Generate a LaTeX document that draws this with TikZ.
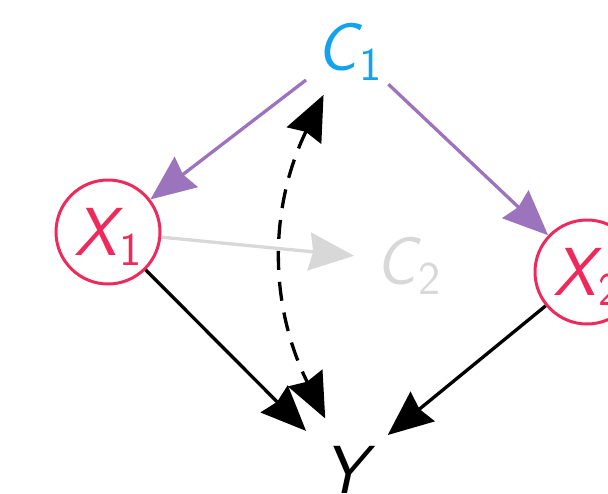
\documentclass[tikz,border=0pt]{standalone}
\usetikzlibrary{arrows.meta}
\definecolor{cblue}{HTML}{12A2EE}
\definecolor{cred}{HTML}{EE2A5C}
\definecolor{cpurple}{HTML}{9C73BD}
\definecolor{cgray}{HTML}{D8D8D8}
% italic sans letter with an upright sans subscript (subscript kept out of the box height)
\newcommand{\varlbl}[2]{{\sffamily\itshape #1}\kern2pt\smash{\raisebox{-10pt}{\fontsize{47}{50}\selectfont\sffamily #2}}}
\begin{document}
\begin{tikzpicture}[x=1pt,y=-1pt,
  every node/.style={font=\fontsize{68}{80}\selectfont},
  txt/.style={circle, inner sep=0pt, minimum size=#1},
  txt/.default=108pt,
  var/.style={circle, draw=cred, text=cred, line width=3pt, inner sep=0pt, minimum size=104pt},
  arr/.style={line width=3.3pt, -{Stealth[length=45pt,width=38pt,inset=4pt]}},
  dasharr/.style={line width=3.3pt, dash pattern=on 19pt off 12pt,
    {Stealth[length=45pt,width=38pt,inset=4pt]}-{Stealth[length=45pt,width=38pt,inset=4pt]}}]
\useasboundingbox (0,0) rectangle (608,493);

\node[txt, text=cblue] (C1) at (349,47) {\varlbl{C}{1}};
\node[txt, text=cgray] (C2) at (408,261) {\varlbl{C}{2}};
\node[var] (X1) at (108,232) {\varlbl{X}{1}};
\node[var] (X2) at (587,272) {\varlbl{X}{2}};
\node[txt=110pt] (Y) at (345,470) {\sffamily\itshape Y};

\draw[arr, cpurple] (C1) -- (X1);
\draw[arr, cpurple] (C1) -- (X2);
\draw[arr, cgray] (X1) -- (C2);
\draw[arr] (X1) -- (Y);
\draw[arr] (X2) -- (Y);
\draw[dasharr] (C1.242) to[bend right=26] (Y.111);
\end{tikzpicture}
\end{document}
